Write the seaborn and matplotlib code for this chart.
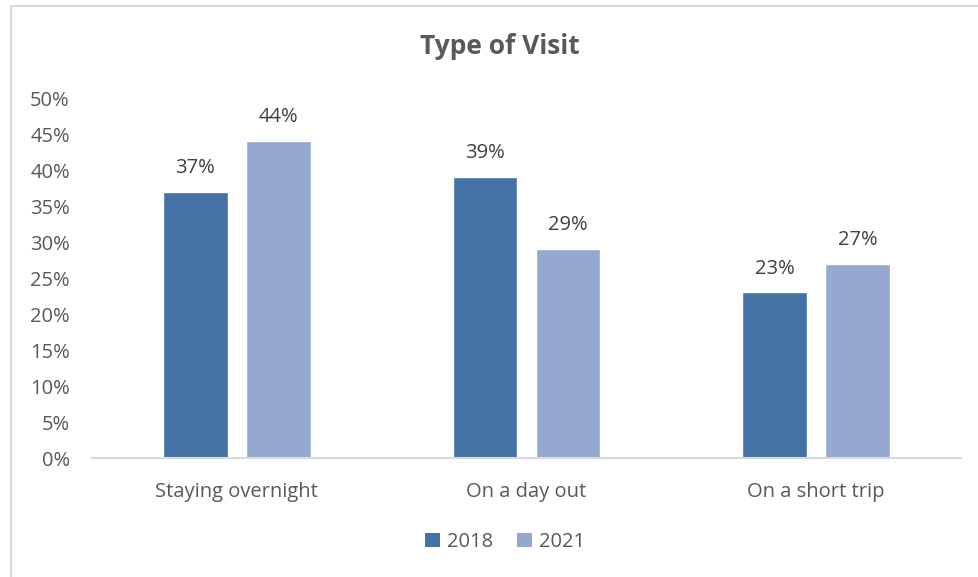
import matplotlib
matplotlib.use("Agg")
import matplotlib.pyplot as plt
from matplotlib.lines import Line2D
from matplotlib.patches import Patch
import seaborn as sns
import pandas as pd

categories = ["Staying overnight", "On a day out", "On a short trip"]
years = ["2018", "2021"]
values_2018 = [0.37, 0.39, 0.23]
values_2021 = [0.44, 0.29, 0.27]
y_ticks = [0.0, 0.05, 0.10, 0.15, 0.20, 0.25, 0.30, 0.35, 0.40, 0.45, 0.50]

colors = {"2018": "#4472A5", "2021": "#95A9D0"}

df = pd.DataFrame({
    "category": categories * 2,
    "year": [years[0]] * 3 + [years[1]] * 3,
    "share": values_2018 + values_2021,
})

sns.set_theme(style="white")
plt.rcParams["font.family"] = ["Open Sans", "DejaVu Sans"]

W, H = 979, 577
fig = plt.figure(figsize=(W / 100, H / 100), dpi=100)
ax = fig.add_axes([92 / W, 1 - 458 / H, (961 - 92) / W, (458 - 98) / H])

sns.barplot(data=df, x="category", y="share", hue="year", order=categories,
            hue_order=years, palette=colors, width=0.573, gap=0.217,
            saturation=1, legend=False, ax=ax)

ax.set_xlim(-0.5, 2.5)
ax.set_ylim(0, 0.5)
ax.set_yticks(y_ticks)
ax.set_yticklabels([f"{round(t * 100)}%" for t in y_ticks])
ax.set_xlabel("")
ax.set_ylabel("")

text_color = "#595959"
fs = 14.5
ax.tick_params(axis="y", length=0, pad=16, labelsize=fs, labelcolor=text_color)
ax.tick_params(axis="x", length=0, pad=17, labelsize=fs, labelcolor=text_color)
for side in ["top", "right", "left"]:
    ax.spines[side].set_visible(False)
ax.spines["bottom"].set_color("#D9D9D9")
ax.spines["bottom"].set_linewidth(1.5)
ax.grid(False)

for container in ax.containers:
    ax.bar_label(container, labels=[f"{round(v * 100)}%" for v in container.datavalues],
                 padding=10, fontsize=fs, color="#404040")

fig.text(500 / W, 1 - 46 / H, "Type of Visit", ha="center", va="center",
         fontsize=19, fontweight="bold", color=text_color)

handles = [Patch(facecolor=colors[y], edgecolor="none", label=y) for y in years]
fig.legend(handles=handles, loc="center", bbox_to_anchor=(505 / W, 1 - 542 / H),
           ncol=2, frameon=False, fontsize=fs, handlelength=0.72, handleheight=0.72,
           handletextpad=0.35, columnspacing=1.2, labelcolor=text_color)

border = "#D9D9D9"
fig.add_artist(Line2D([10.5 / W, 1], [1 - 5.5 / H, 1 - 5.5 / H], color=border, lw=1.5,
                      transform=fig.transFigure))
fig.add_artist(Line2D([10.5 / W, 10.5 / W], [0, 1 - 5.5 / H], color=border, lw=1.5,
                      transform=fig.transFigure))

fig.savefig("out.png", dpi=100, facecolor="white")
